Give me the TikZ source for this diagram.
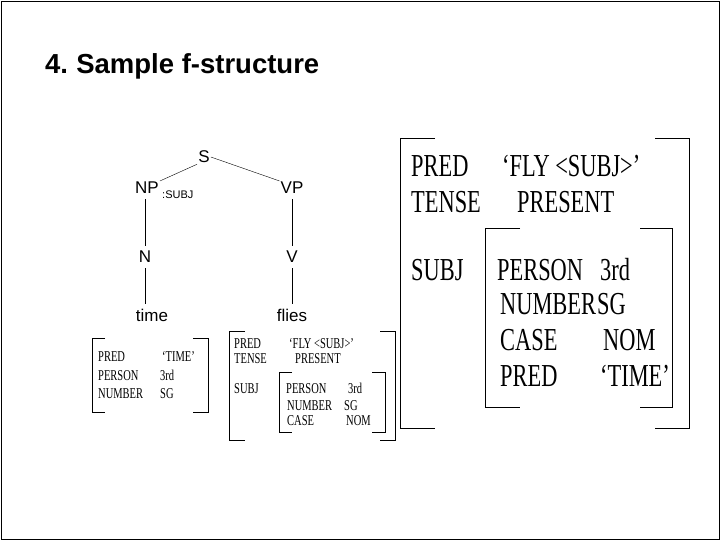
\documentclass[tikz,border=0pt]{standalone}
\usepackage{fontspec}
\setmainfont{Liberation Sans}
\newfontfamily\fserif{Liberation Serif}
\usetikzlibrary{positioning}
\newcommand{\narrow}[1]{\scalebox{0.7}[1]{#1}}

\begin{document}
\begin{tikzpicture}[x=1pt, y=-1pt,
	cat/.style={inner sep=1pt, font=\fontsize{17}{17}\selectfont},
	big/.style={anchor=base west, inner sep=0pt, font=\fserif\fontsize{32}{32}\selectfont},
	small/.style={anchor=base west, inner sep=0pt, font=\fserif\fontsize{15}{15}\selectfont},
	brk/.style={line width=1pt}]

	\useasboundingbox (0,0) rectangle (720,540);
	\draw[line width=0.8pt] (1,1) rectangle (719,539);

	\node[anchor=west, inner sep=0pt, font=\bfseries\fontsize{27.5}{27.5}\selectfont] (title) at (45,66) {4.\kern-2pt{} Sample f-structure};

	% tree
	\node[cat] (s) at (204,157) {S};
	\node[cat] (np) at (147,188) {NP};
	\node[anchor=west, inner sep=0pt, font=\fontsize{11}{11}\selectfont] (subj) at (162,195) {:SUBJ};
	\node[cat] (vp) at (292,188) {VP};
	\node[cat] (n) at (145,257) {N};
	\node[cat] (v) at (292,257) {V};
	\node[cat] (time) at (152,315) {time};
	\node[cat] (flies) at (292,315) {flies};
	\draw (s.south west) -- (np.north east);
	\draw (s.east) -- (vp.north west);
	\draw[shorten <=4pt, shorten >=4pt] (n.north |- np.south) -- (n.north);
	\draw[shorten <=4pt, shorten >=4pt] (n.south) -- (n.south |- time.north);
	\draw[shorten <=4pt, shorten >=4pt] (vp.south) -- (v.north);
	\draw[shorten <=4pt, shorten >=4pt] (v.south) -- (v.south |- flies.north);

	% f-structure of "time"
	\draw (105,338) -| (92,412) -- (105,412);
	\draw (193,338) -| (208,412) -- (193,412);
	\node[small] (tpred) at (98,361) {\narrow{PRED}};
	\node[small] (tpredv) at (162,361) {\narrow{‘TIME’}};
	\node[small] (tpers) at (98,380) {\narrow{PERSON}};
	\node[small] (tpersv) at (160,380) {\narrow{3rd}};
	\node[small] (tnum) at (98,398) {\narrow{NUMBER}};
	\node[small] (tnumv) at (160,398) {\narrow{SG}};

	% f-structure of "flies"
	\draw (245,331) -| (229,440) -- (245,440);
	\draw (380,331) -| (395,440) -- (380,440);
	\draw (292,372) -| (279,432) -- (292,432);
	\draw (372,372) -| (385,432) -- (372,432);
	\node[small] (fpred) at (234,348) {\narrow{PRED}};
	\node[small] (fpredv) at (289,348) {\narrow{‘FLY <SUBJ>’}};
	\node[small] (ftense) at (234,363) {\narrow{TENSE}};
	\node[small] (ftensev) at (295,363) {\narrow{PRESENT}};
	\node[small] (fsubj) at (234,393) {\narrow{SUBJ}};
	\node[small] (fpers) at (286,393) {\narrow{PERSON}};
	\node[small] (fpersv) at (348,393) {\narrow{3rd}};
	\node[small] (fnum) at (287,410) {\narrow{NUMBER}};
	\node[small] (fnumv) at (344,410) {\narrow{SG}};
	\node[small] (fcase) at (287,425) {\narrow{CASE}};
	\node[small] (fcasev) at (346,425) {\narrow{NOM}};

	% full f-structure
	\draw[brk] (435,139) -| (400,428) -- (435,428);
	\draw[brk] (655,139) -| (689,428) -- (655,428);
	\draw[brk] (520,229) -| (485,407) -- (520,407);
	\draw[brk] (640,229) -| (672,407) -- (640,407);
	\node[big] (pred) at (411,177) {\narrow{PRED}};
	\node[big] (predv) at (502,177) {\narrow{‘FLY <SUBJ>’}};
	\node[big] (tense) at (411,213) {\narrow{TENSE}};
	\node[big] (tensev) at (517,213) {\narrow{PRESENT}};
	\node[big] (subjf) at (411,280) {\narrow{SUBJ}};
	\node[big] (pers) at (497,280) {\narrow{PERSON}};
	\node[big] (persv) at (600,280) {\narrow{3rd}};
	\node[big] (num) at (500,314) {\narrow{NUMBER}};
	\node[big] (numv) at (597,314) {\narrow{SG}};
	\node[big] (case) at (500,350) {\narrow{CASE}};
	\node[big] (casev) at (603,350) {\narrow{NOM}};
	\node[big] (pred2) at (500,386) {\narrow{PRED}};
	\node[big] (pred2v) at (600,386) {\narrow{‘TIME’}};

\end{tikzpicture}
\end{document}
